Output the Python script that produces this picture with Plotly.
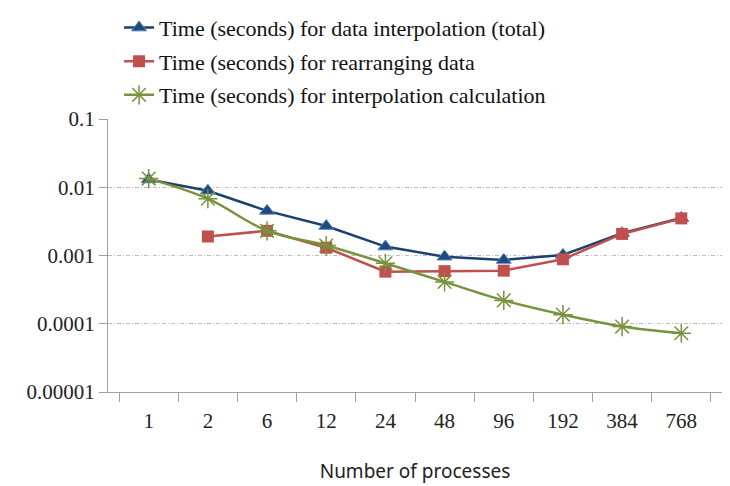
import plotly.graph_objects as go

categories = ["1", "2", "6", "12", "24", "48", "96", "192", "384", "768"]
total = [0.0130, 0.0089, 0.0045, 0.0027, 0.00135, 0.00096, 0.00086, 0.00102, 0.00212, 0.00354]
rearrange = [None, 0.0019, 0.0023, 0.0013, 0.00058, 0.00059, 0.00060, 0.00088, 0.00207, 0.0035]
calc = [0.0134, 0.0068, 0.0023, 0.0014, 0.00077, 0.00041, 0.00022, 0.000136, 0.000091, 0.0000726]
names = ["Time (seconds) for data interpolation (total)",
         "Time (seconds) for rearranging data",
         "Time (seconds) for interpolation calculation"]
ytickvals = [0.1, 0.01, 0.001, 0.0001, 0.00001]
yticktext = ["0.1", "0.01", "0.001", "0.0001", "0.00001"]

SERIF = "Liberation Serif"

fig = go.Figure()
fig.add_trace(go.Scatter(x=categories, y=total, name=names[0], mode="lines+markers",
                         legendgroup="a",
                         line=dict(color="#1F3F6E", width=2.5),
                         marker=dict(symbol="triangle-up", size=13, color="#1F497D",
                                     line=dict(color="#4F81BD", width=1))))
fig.add_trace(go.Scatter(x=categories, y=rearrange, name=names[1], mode="lines+markers",
                         legendgroup="b",
                         line=dict(color="#C0504D", width=2.5),
                         marker=dict(symbol="square", size=12, color="#C0504D")))
fig.add_trace(go.Scatter(x=categories, y=calc, name=names[2], mode="lines+markers",
                         legendgroup="c",
                         line=dict(color="#77933C", width=2.5, shape="spline"),
                         marker=dict(symbol="asterisk-open", size=16,
                                     line=dict(color="#9BBB59", width=1.5))))

fig.update_layout(
    width=730, height=486,
    margin=dict(l=108, r=8, t=119, b=94),
    plot_bgcolor="white", paper_bgcolor="white",
    font=dict(family=SERIF, size=20, color="#222"),
    legend=dict(x=0.018, y=0.986, yref="container", xanchor="left", yanchor="top",
                font=dict(family=SERIF, size=22, color="#111"),
                bgcolor="rgba(0,0,0,0)", tracegroupgap=2, itemwidth=30,
                traceorder="grouped"),
    showlegend=True,
)
fig.update_xaxes(type="category", showline=True, linecolor="#A0A0A0", linewidth=1,
                 ticks="outside", tickson="boundaries", ticklen=9, tickcolor="#A0A0A0",
                 showgrid=False, automargin=False, ticklabelstandoff=10,
                 tickfont=dict(family=SERIF, size=21, color="#222"),
                 title=dict(text="Number of processes", standoff=32,
                            font=dict(family="Noto Sans", size=19, color="#222")))
fig.update_yaxes(type="log", range=[-5, -1], tickvals=ytickvals, ticktext=yticktext,
                 showline=True, linecolor="#A0A0A0", linewidth=1,
                 ticks="outside", ticklen=8, tickcolor="#A0A0A0",
                 showgrid=True, gridcolor="#BDBDBD", griddash="4px,2px,1px,2px", gridwidth=1,
                 zeroline=False, automargin=False,
                 tickfont=dict(family=SERIF, size=21, color="#222"))

fig.write_html("out.html")
